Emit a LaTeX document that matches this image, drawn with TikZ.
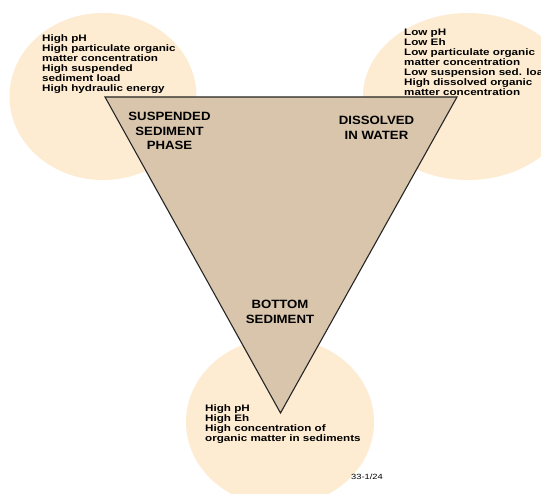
\documentclass[tikz,border=0pt]{standalone}
\usepackage{fontspec}
\setmainfont{Liberation Sans}
\newfontfamily\widefont[FakeStretch=1.24]{Liberation Sans}
\newfontfamily\midfont[FakeStretch=1.1]{Liberation Sans}
\definecolor{cream}{RGB}{253,236,210}
\definecolor{tan}{RGB}{217,197,172}
\tikzset{
  blob/.style={fill=cream},
  tri/.style={fill=tan, draw=black!85, line width=1.1pt, line join=miter},
  phase/.style={align=center, inner sep=0pt, font=\midfont\fontsize{12}{14.8}\selectfont\bfseries},
  props/.style={align=left, inner sep=0pt, anchor=north west, font=\widefont\fontsize{9.4}{10}\selectfont\bfseries},
  tag/.style={inner sep=0pt, font=\widefont\fontsize{7.5}{8}\selectfont}
}
\begin{document}
\begin{tikzpicture}[x=1pt,y=1pt]
\useasboundingbox (0,0) rectangle (541,493);
\clip (0,0) rectangle (541,493);
\fill[white] (0,0) rectangle (541,493);
% circles
\fill[blob] (103,396.5) ellipse [x radius=93.5, y radius=83.5];
\fill[blob] (468,396.5) ellipse [x radius=105, y radius=83.5];
\fill[blob] (280,71) ellipse [x radius=94, y radius=84];
% triangle
\coordinate (tl) at (105,396);
\coordinate (tr) at (457,396);
\coordinate (bt) at (280.5,80);
\draw[tri] (tl) -- (tr) -- (bt) -- cycle;
% phase labels
\node[phase] (susp) at (169.5,362) {SUSPENDED\\SEDIMENT\\PHASE};
\node[phase] (diss) at (376.5,365.5) {DISSOLVED\\IN WATER};
\node[phase] (bott) at (280,181) {BOTTOM\\SEDIMENT};
% property lists
\node[props] (ptl) at (42,459) {High pH\\High particulate organic\\matter concentration\\High suspended\\sediment load\\High hydraulic energy};
\node[props] (ptr) at (404,464.5) {Low pH\\Low Eh\\Low particulate organic\\matter concentration\\Low suspension sed. load\\High dissolved organic\\matter concentration};
\node[props] (pb) at (205,88.5) {High pH\\High Eh\\High concentration of\\organic matter in sediments};
\node[tag] (id) at (367,16) {33-1/24};
\end{tikzpicture}
\end{document}
